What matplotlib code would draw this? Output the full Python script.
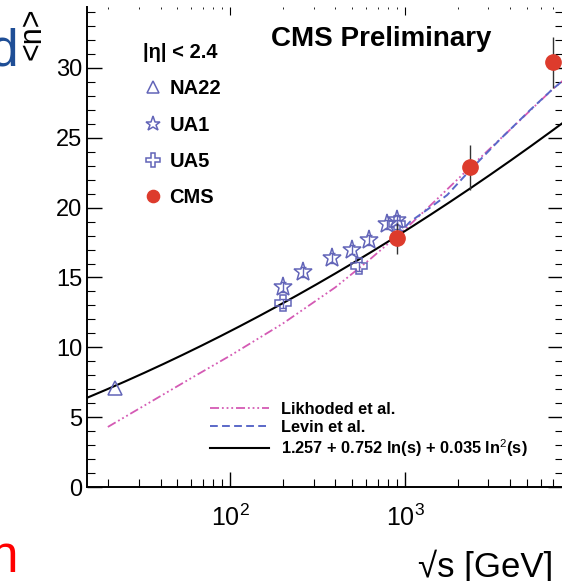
import numpy as np
import matplotlib
matplotlib.use("Agg")
import matplotlib.pyplot as plt
from matplotlib.ticker import MultipleLocator, LogLocator, NullFormatter

plt.rcParams['font.family'] = ['Liberation Sans', 'DejaVu Sans']
plt.rcParams['mathtext.fontset'] = 'custom'
plt.rcParams['mathtext.rm'] = 'Liberation Sans'
plt.rcParams['mathtext.it'] = 'Liberation Sans:italic'
plt.rcParams['mathtext.bf'] = 'Liberation Sans:bold'

# measurements, sqrt(s) in GeV vs mean multiplicity
na22_e = [22]
na22_n = [7.1]
ua1_e = [200, 260, 380, 500, 620, 790, 900]
ua1_n = [14.3, 15.4, 16.4, 17.0, 17.7, 18.8, 19.1]
ua5_e = [200, 546, 900]
ua5_n = [13.15, 15.8, 18.8]
cms_e = [900, 2360, 7000]
cms_n = [17.8, 22.9, 30.4]
cms_err = [1.1, 1.6, 1.85]

# model predictions
likhoded_e = [20, 60, 100, 200, 400, 630, 1030, 1520, 2360, 4000, 7000, 8000]
likhoded_n = [4.3, 7.8, 9.4, 11.7, 14.3, 16.3, 18.6, 20.6, 22.9, 25.6, 28.5, 29.1]
levin_e = [900, 1070, 1390, 1740, 2360, 3500, 5200, 7000, 8000]
levin_n = [18.0, 19.0, 20.0, 20.9, 22.7, 24.9, 27.0, 28.5, 29.1]

# fit: a + b ln(s) + c ln^2(s)
fit_coef = [1.257, 0.752, 0.035]

mcol = '#6264b8'
cmscol = '#dd3b2c'
pink = '#d45ab4'
blue = '#5a68c8'

fig = plt.figure(figsize=(5.62, 5.81), dpi=100)
ax = fig.add_axes([87/562, 94/581, 476/562, 480/581])
ax.set_xscale('log')
ax.set_xlim(15.2, 8000)
ax.set_ylim(0, 480/13.967)

# curves
fit_e = np.geomspace(15.2, 8000, 300)
L = np.log(fit_e**2)
fit_n = fit_coef[0] + fit_coef[1]*L + fit_coef[2]*L**2
h_lik, = ax.plot(likhoded_e, likhoded_n, color=pink, lw=1.3,
                 dashes=(5, 1.6, 1, 1.6, 1, 1.6, 1, 1.6), label='Likhoded et al.')
h_lev, = ax.plot(levin_e, levin_n, color=blue, lw=1.4, dashes=(4, 2.2), label='Levin et al.')
h_fit, = ax.plot(fit_e, fit_n, color='black', lw=1.5,
                 label='1.257 + 0.752 ln(s) + 0.035 ln$^{2}$(s)')

# data points
ax.errorbar(ua1_e, ua1_n, yerr=0.35, fmt='none', ecolor=mcol, elinewidth=1, capsize=2)
ax.errorbar(ua5_e, ua5_n, yerr=0.3, fmt='none', ecolor=mcol, elinewidth=1, capsize=2)
h_na22, = ax.plot(na22_e, na22_n, ls='none', marker='^', ms=10, mfc='none', mec=mcol, mew=1.1)
h_ua1, = ax.plot(ua1_e, ua1_n, ls='none', marker='*', ms=14, mfc='none', mec=mcol, mew=1.1)
h_ua5, = ax.plot(ua5_e, ua5_n, ls='none', marker='P', ms=12, mfc='none', mec=mcol, mew=1.1)
ax.errorbar(cms_e, cms_n, yerr=cms_err, fmt='none', ecolor='#333333', elinewidth=1)
h_cms, = ax.plot(cms_e, cms_n, ls='none', marker='o', ms=11, mfc=cmscol, mec=cmscol)

# axes styling
ax.spines['top'].set_visible(False)
for s in ['left', 'bottom']:
    ax.spines[s].set_linewidth(1.4)
ax.yaxis.set_major_locator(MultipleLocator(5))
ax.yaxis.set_minor_locator(MultipleLocator(1))
ax.xaxis.set_major_locator(LogLocator(base=10, numticks=10))
ax.xaxis.set_minor_locator(LogLocator(base=10, subs=np.arange(2, 10), numticks=20))
ax.xaxis.set_minor_formatter(NullFormatter())
ax.tick_params(which='both', direction='in', right=True, top=False)
ax.tick_params(which='major', length=11, width=1.0)
ax.tick_params(which='minor', length=6, width=0.8)
ax.tick_params(axis='y', labelsize=17, pad=3.6)
ax.tick_params(axis='x', labelsize=18, pad=13)

top = ax.secondary_xaxis('top')
top.spines['top'].set_visible(False)
top.xaxis.set_minor_locator(LogLocator(base=10, subs=np.arange(2, 10), numticks=20))
top.tick_params(which='major', direction='in', length=6, labeltop=False)
top.tick_params(which='minor', direction='in', length=1.5)
top.xaxis.set_minor_formatter(NullFormatter())
top.set_xticklabels([])

leg1 = ax.legend(handles=[h_na22, h_ua1, h_ua5, h_cms], labels=['NA22', 'UA1', 'UA5', 'CMS'],
                 title='|η| < 2.4', loc='upper left', bbox_to_anchor=(0.118, 0.925),
                 frameon=False, prop={'weight': 'bold', 'size': 14.5},
                 title_fontproperties={'weight': 'bold', 'size': 14.5},
                 alignment='left', handlelength=1.0, handletextpad=0.3, markerscale=0.8,
                 labelspacing=0.86, borderpad=0, borderaxespad=0)
ax.add_artist(leg1)
ax.legend(handles=[h_lik, h_lev, h_fit], loc='upper left', bbox_to_anchor=(0.259, 0.178),
          frameon=False, prop={'weight': 'bold', 'size': 11.8}, handlelength=3.6,
          handletextpad=0.7, labelspacing=0.18, borderpad=0, borderaxespad=0)

ax.text(0.3866, 0.934, 'CMS Preliminary', transform=ax.transAxes, fontsize=20,
        fontweight='bold', va='center', ha='left')

# labels around the frame
fig.text(18/562, (581 - 60)/581, '<n>', rotation=90, fontsize=22, ha='left', va='bottom')
fig.text(418/562, 4/581, '√s [GeV]', fontsize=25, ha='left', va='baseline')
fig.text(18/562, (581 - 65)/581, 'd', fontsize=37, color='#1f4e96', ha='right', va='baseline')
fig.text(18/562, (581 - 572)/581, 'n', fontsize=37, color='#ff0000', ha='right', va='baseline')

fig.savefig('out.png', dpi=100)
